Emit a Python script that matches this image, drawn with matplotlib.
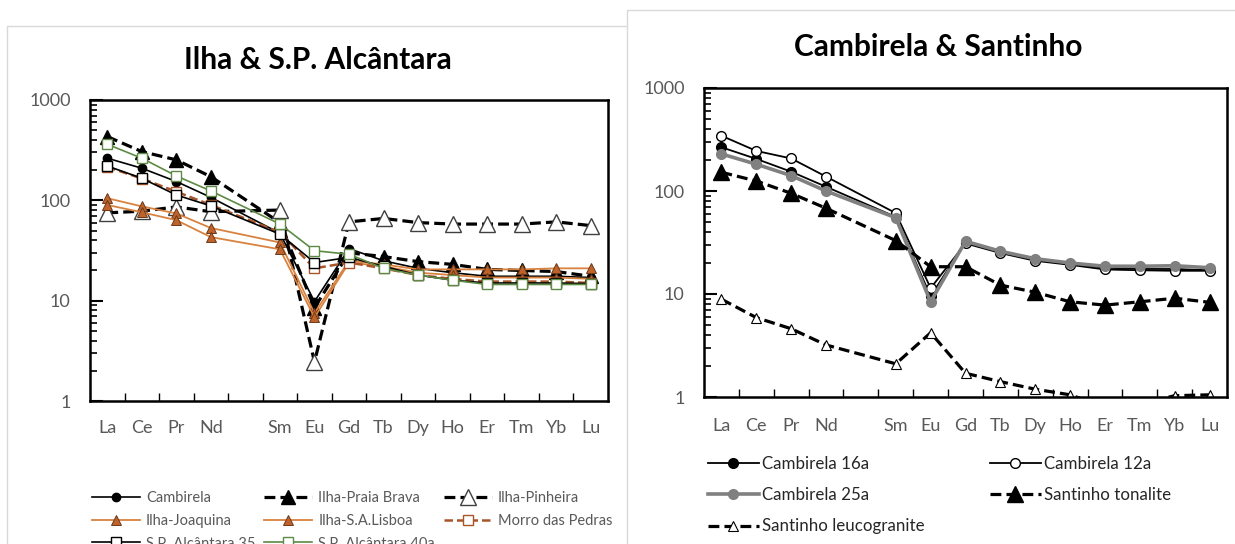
import numpy as np
import matplotlib
matplotlib.use("Agg")
import matplotlib.pyplot as plt
from matplotlib.patches import Rectangle

plt.rcParams['font.family'] = ['Lato', 'DejaVu Sans']

# REE categories (Pm left blank as in the original sheet)
ree = ['La', 'Ce', 'Pr', 'Nd', '', 'Sm', 'Eu', 'Gd', 'Tb', 'Dy', 'Ho', 'Er', 'Tm', 'Yb', 'Lu']
nan = np.nan

# left panel - Ilha & S.P. Alcantara
cambirela = [263, 209, 154, 107, nan, 47, 9.8, 33, 25, 21, 19, 17.5, 17.5, 17.5, 17]
praia_brava = [432, 306, 253, 172, nan, 60, 8.5, 30, 27.5, 24.5, 23, 20.5, 20, 19.5, 17.5]
pinheira = [75, 78, 86, 77, nan, 80, 2.45, 61, 66, 60, 58, 58, 58, 61, 56]
joaquina = [105, 87, 74, 53, nan, 38, 7.5, 25, 23, 20.5, 20.5, 20.5, 20.5, 21, 21]
lisboa = [90, 76, 63.5, 43, nan, 32.5, 6.8, 24, 22, 19, 18, 17, 17, 17, 16.5]
morro = [215, 165, 122, 90, nan, 48, 21, 24, 21, 18, 16.5, 15.5, 15.5, 15.5, 15]
spa35 = [220, 166, 113, 88, nan, 46, 24, 27, 22, 18, 16, 15, 15, 15, 14.8]
spa40a = [362, 263, 175, 124, nan, 58, 31.5, 29, 21, 18, 16, 14.5, 14.5, 14.5, 14.5]

# right panel - Cambirela & Santinho
c16a = [266, 205, 154, 110, nan, 56, 9.5, 32, 25.5, 21.5, 19.5, 18, 17.5, 17.5, 17]
c12a = [344, 245, 207, 138, nan, 61, 11.4, 31, 25, 21, 19.2, 17.3, 17, 16.8, 16.8]
c25a = [229, 182, 141, 100, nan, 55, 8.4, 32.5, 26, 22, 20, 18.6, 18.6, 18.8, 18]
tonalite = [152, 125, 95, 68, nan, 33, 18.4, 18.4, 12.2, 10.4, 8.4, 7.8, 8.4, 9.1, 8.3]
leuco = [8.9, 5.9, 4.6, 3.2, nan, 2.1, 4.2, 1.7, 1.41, 1.19, 1.05, 0.8, 0.85, 1.03, 1.05]

orange_line = '#D9823F'
orange_mk = '#C0632B'
brown = '#A9552A'
green = '#5E8A45'
gray_txt = '#595959'

fig = plt.figure(figsize=(12.35, 5.44), dpi=100)

# chart area borders
fig.patches.append(Rectangle((7 / 1235, -0.1), 630 / 1235, 1.1 - 26 / 544, transform=fig.transFigure,
                             facecolor='white', edgecolor='#D9D9D9', lw=1, zorder=-5))
fig.patches.append(Rectangle((627 / 1235, -0.1), 620 / 1235, 1.1 - 10 / 544, transform=fig.transFigure,
                             facecolor='white', edgecolor='#D9D9D9', lw=1, zorder=-4))

x = np.arange(1, len(ree) + 1)


def draw(ax, vals, **kw):
    v = np.array(vals, dtype=float)
    m = ~np.isnan(v)
    return ax.plot(x[m], v[m], **kw)[0]


def style_axes(ax, xpad):
    ax.set_yscale('log')
    ax.set_ylim(1, 1000)
    ax.set_xlim(0.5, len(ree) + 0.5)
    ax.set_xticks(x)
    ax.set_xticklabels(ree, fontsize=13, color=gray_txt)
    ax.set_xticks(x[:-1] + 0.5, minor=True)
    ax.tick_params(axis='x', which='major', length=0, pad=xpad)
    ax.tick_params(axis='x', which='minor', direction='in', length=6, width=1, color='black')
    ax.set_yticks([1, 10, 100, 1000])
    ax.set_yticklabels(['1', '10', '100', '1000'], fontsize=13, color=gray_txt)
    ax.tick_params(axis='y', which='major', direction='in', length=9, width=1.5, pad=14)
    ax.tick_params(axis='y', which='minor', direction='in', length=5, width=1.2)
    for s in ax.spines.values():
        s.set_linewidth(1.8)
        s.set_color('black')
    ax.set_facecolor('white')


dash = (0, (3.4, 1.6))

# ---------- left ----------
ax1 = fig.add_axes([90 / 1235, 1 - 401 / 544, 518 / 1235, 301 / 544])
style_axes(ax1, 14)
h_cam = draw(ax1, cambirela, color='black', lw=1.2, marker='o', ms=6, mfc='black', mec='black', label='Cambirela')
h_pb = draw(ax1, praia_brava, color='black', lw=2.3, ls=dash, marker='^', ms=10, mfc='black', mec='black',
            label='Ilha-Praia Brava')
h_pi = draw(ax1, pinheira, color='black', lw=2.3, ls=dash, marker='^', ms=11, mfc='white', mec='#404040',
            mew=1, label='Ilha-Pinheira')
h_jo = draw(ax1, joaquina, color=orange_line, lw=1.3, marker='^', ms=7.5, mfc=orange_mk, mec='#6B3A1A',
            mew=0.7, label='Ilha-Joaquina')
h_li = draw(ax1, lisboa, color=orange_line, lw=1.3, marker='^', ms=7.5, mfc=orange_mk, mec='#6B3A1A',
            mew=0.7, label='Ilha-S.A.Lisboa')
h_mo = draw(ax1, morro, color=brown, lw=1.8, ls=dash, marker='s', ms=7, mfc='white', mec=brown,
            mew=1, label='Morro das Pedras')
h_35 = draw(ax1, spa35, color='black', lw=1.2, marker='s', ms=7, mfc='white', mec='black',
            mew=1, label='S.P. Alcântara 35')
h_40 = draw(ax1, spa40a, color=green, lw=1.2, marker='s', ms=7.5, mfc='white', mec=green,
            mew=1, label='S.P. Alcântara 40a')
fig.text(318 / 1235, 1 - 60 / 544, 'Ilha & S.P. Alcântara', ha='center', va='center',
         fontsize=21.5, fontweight='bold', color='black')

order1 = [h_cam, h_jo, h_35, h_pb, h_li, h_40, h_pi, h_mo]
leg1 = fig.legend(handles=order1, labels=[h.get_label() for h in order1], ncol=3,
                  loc='upper left', bbox_to_anchor=(92 / 1235, 1 - 491 / 544), frameon=False,
                  fontsize=10.5, handlelength=3.3, handletextpad=0.4, columnspacing=0.6,
                  labelspacing=0.6, borderaxespad=0, borderpad=0)
for t in leg1.get_texts():
    t.set_color(gray_txt)

# ---------- right ----------
ax2 = fig.add_axes([704 / 1235, 1 - 397 / 544, 523 / 1235, 309 / 544])
style_axes(ax2, 15)
h16 = draw(ax2, c16a, color='black', lw=1.3, marker='o', ms=7, mfc='black', mec='black', label='Cambirela 16a')
h12 = draw(ax2, c12a, color='black', lw=1.3, marker='o', ms=7, mfc='white', mec='black', mew=1,
           label='Cambirela 12a')
h25 = draw(ax2, c25a, color='#808080', lw=2.6, marker='o', ms=7, mfc='#808080', mec='#808080',
           label='Cambirela 25a')
hto = draw(ax2, tonalite, color='black', lw=2.3, ls=dash, marker='^', ms=11, mfc='black', mec='black',
           label='Santinho tonalite')
hle = draw(ax2, leuco, color='black', lw=2.3, ls=dash, marker='^', ms=7.5, mfc='white', mec='black',
           mew=0.8, label='Santinho leucogranite')
fig.text(938 / 1235, 1 - 47 / 544, 'Cambirela & Santinho', ha='center', va='center',
         fontsize=21.5, fontweight='bold', color='black')

order2 = [h16, h25, hle, h12, hto]
leg2 = fig.legend(handles=order2, labels=[h.get_label() for h in order2], ncol=2,
                  loc='upper left', bbox_to_anchor=(708 / 1235, 1 - 456 / 544), frameon=False,
                  fontsize=12.2, handlelength=3.0, handletextpad=0.2, columnspacing=3.85,
                  labelspacing=0.9, borderaxespad=0, borderpad=0)
for t in leg2.get_texts():
    t.set_color('#262626')

fig.savefig('out.png', dpi=100)
